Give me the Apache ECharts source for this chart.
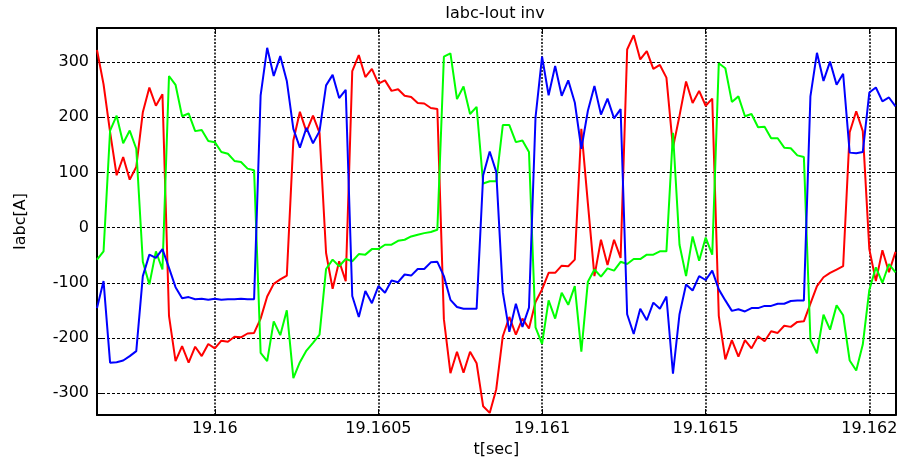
<!DOCTYPE html>
<html>
<head>
<meta charset="utf-8">
<script src="https://cdn.jsdelivr.net/npm/echarts@6/dist/echarts.min.js"></script>
<style>
  html, body { margin: 0; padding: 0; background: #fff; }
  #chart { width: 910px; height: 463px; }
</style>
</head>
<body>
<div id="chart"></div>
<script>
// Inverter phase currents sampled at 50 kHz (one value every 20 us)
const T0 = 19.15964;
const DT = 0.00002;

const iaRed = [
  322, 260, 173, 95, 128, 87, 110, 209, 254, 221,
  242, -160, -242, -215, -245, -216, -233, -211, -219, -205,
  -207, -198, -199, -192, -191, -165, -125, -102, -94, -87,
  158, 210, 174, 203, 172, -46, -111, -61, -97, 284,
  313, 273, 288, 261, 267, 248, 251, 239, 237, 226,
  225, 217, 215, -166, -264, -225, -263, -225, -246, -324,
  -336, -293, -197, -162, -194, -165, -183, -135, -112, -82,
  -82, -69, -70, -58, 179, 44, -88, -22, -68, -22,
  -55, 323, 349, 305, 320, 288, 295, 272, 145, 203,
  265, 226, 248, 221, 234, -160, -239, -204, -234, -204,
  -219, -197, -206, -188, -191, -178, -180, -171, -170, -138,
  -106, -90, -82, -76, -70, 173, 211, 175, -39, -97,
  -41, -81, -44
];

const ibGreen = [
  -58, -43, 176, 203, 153, 176, 143, -62, -103, -43,
  -76, 275, 259, 202, 207, 175, 177, 157, 155, 137,
  134, 121, 119, 107, 104, -227, -242, -170, -195, -150,
  -273, -244, -223, -209, -194, -75, -58, -70, -57, -61,
  -48, -49, -39, -39, -31, -31, -24, -22, -16, -13,
  -10, -8, -4, 310, 316, 233, 256, 206, 219, 80,
  84, 84, 186, 186, 155, 158, 137, -181, -211, -132,
  -165, -118, -140, -106, -225, -98, -76, -89, -74, -78,
  -62, -66, -57, -57, -49, -49, -43, -43, 172, -31,
  -88, -16, -60, -18, -49, 298, 289, 228, 238, 202,
  206, 182, 183, 162, 162, 145, 144, 131, 128, -203,
  -228, -158, -185, -141, -159, -241, -259, -212, -113, -72,
  -100, -66, -81
];

const icBlue = [
  -146, -97, -245, -244, -241, -233, -224, -88, -49, -55,
  -39, -73, -108, -128, -126, -130, -129, -131, -129, -131,
  -130, -130, -129, -130, -130, 240, 326, 275, 311, 266,
  179, 145, 181, 153, 175, 258, 277, 235, 250, -124,
  -162, -115, -137, -106, -118, -96, -99, -85, -87, -75,
  -75, -63, -62, -88, -131, -144, -147, -147, -147, 95,
  138, 101, -117, -189, -138, -180, -145, 200, 310, 240,
  293, 239, 267, 227, 143, 212, 257, 205, 234, 198,
  215, -157, -193, -147, -168, -136, -147, -125, -265, -157,
  -103, -114, -88, -95, -78, -112, -132, -151, -148, -152,
  -146, -146, -142, -142, -138, -138, -133, -132, -132, 238,
  317, 266, 301, 259, 279, 136, 135, 137, 245, 254,
  229, 236, 220
];

const xTicks = [19.16, 19.1605, 19.161, 19.1615, 19.162];
const yTicks = [-300, -200, -100, 0, 100, 200, 300];

const X_MIN = 19.15964, X_MAX = 19.16208;
const Y_MIN = -340, Y_MAX = 362;

const FONT = '"DejaVu Sans", "Liberation Sans", sans-serif';

function pairs(values) {
  return values.map((v, k) => [T0 + DT * k, v]);
}

const frame = { show: true, onZero: false, lineStyle: { color: '#000', width: 2 } };
const innerTick = (vals) => ({
  show: true, inside: true, length: 6, customValues: vals,
  lineStyle: { color: '#000', width: 1 }
});

const chart = echarts.init(document.getElementById('chart'), null, { renderer: 'canvas' });

chart.setOption({
  animation: false,
  backgroundColor: '#fff',
  textStyle: { fontFamily: FONT },
  grid: { left: 97, right: 14.5, top: 28, bottom: 45, containLabel: false },
  graphic: [{
    type: 'text',
    x: 495, y: 14,
    style: {
      text: 'Iabc-Iout inv',
      font: '16px ' + FONT,
      fill: '#000',
      align: 'center', textAlign: 'center',
      verticalAlign: 'middle', textVerticalAlign: 'middle'
    }
  }],
  xAxis: [{
    type: 'value', position: 'bottom',
    min: X_MIN, max: X_MAX,
    name: 't[sec]', nameLocation: 'middle', nameGap: 22,
    nameTextStyle: { color: '#000', fontSize: 16, fontFamily: FONT },
    axisLine: frame,
    axisTick: innerTick(xTicks),
    axisLabel: {
      customValues: xTicks, color: '#000', fontSize: 16, margin: 6, fontFamily: FONT,
      formatter: (v) => String(+(+v).toFixed(4))
    },
    splitLine: { show: true, lineStyle: { color: '#000', width: 1.5, type: [2, 1.5] } }
  }, {
    type: 'value', position: 'top',
    min: X_MIN, max: X_MAX,
    axisLine: frame,
    axisTick: innerTick(xTicks),
    axisLabel: { show: false },
    splitLine: { show: false }
  }],
  yAxis: [{
    type: 'value', position: 'left',
    min: Y_MIN, max: Y_MAX,
    name: 'Iabc[A]', nameLocation: 'middle', nameGap: 68,
    nameTextStyle: { color: '#000', fontSize: 16, fontFamily: FONT },
    axisLine: frame,
    axisTick: innerTick(yTicks),
    axisLabel: { customValues: yTicks, color: '#000', fontSize: 16, margin: 8, fontFamily: FONT },
    splitLine: { show: true, lineStyle: { color: '#000', width: 1, type: [3, 2] } }
  }, {
    type: 'value', position: 'right',
    min: Y_MIN, max: Y_MAX,
    axisLine: frame,
    axisTick: innerTick(yTicks),
    axisLabel: { show: false },
    splitLine: { show: false }
  }],
  series: [
    { name: 'Ia', type: 'line', data: pairs(iaRed), showSymbol: false, clip: true,
      lineStyle: { color: '#ff0000', width: 2 }, itemStyle: { color: '#ff0000' } },
    { name: 'Ib', type: 'line', data: pairs(ibGreen), showSymbol: false, clip: true,
      lineStyle: { color: '#00ff00', width: 2 }, itemStyle: { color: '#00ff00' } },
    { name: 'Ic', type: 'line', data: pairs(icBlue), showSymbol: false, clip: true,
      lineStyle: { color: '#0000ff', width: 2 }, itemStyle: { color: '#0000ff' } }
  ]
});
</script>
</body>
</html>
